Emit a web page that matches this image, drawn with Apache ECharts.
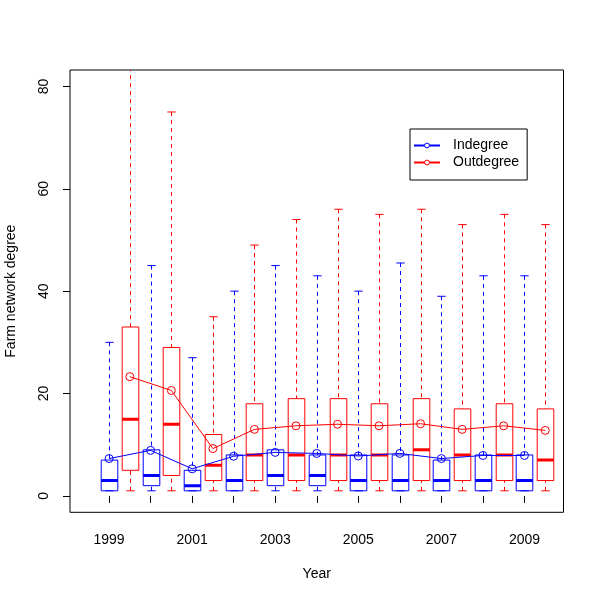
<!DOCTYPE html>
<html>
<head>
<meta charset="utf-8">
<script src="https://cdn.jsdelivr.net/npm/echarts@6/dist/echarts.min.js"></script>
<style>html,body{margin:0;padding:0;background:#fff;}#chart{width:600px;height:600px;}</style>
</head>
<body>
<div id="chart"></div>
<script>
// ---- data ----
var years = [1999, 2000, 2001, 2002, 2003, 2004, 2005, 2006, 2007, 2008, 2009];
var labelYears = [1999, 2001, 2003, 2005, 2007, 2009];
var yTicks = [0, 20, 40, 60, 80];
// box stats: [lower whisker, Q1, median, Q3, upper whisker]
var indegreeBoxes = [
  [1, 1, 3, 7, 30],
  [1, 2, 4, 9, 45],
  [1, 1, 2, 5, 27],
  [1, 1, 3, 8, 40],
  [1, 2, 4, 9, 45],
  [1, 2, 4, 8, 43],
  [1, 1, 3, 8, 40],
  [1, 1, 3, 8, 45.5],
  [1, 1, 3, 7, 39],
  [1, 1, 3, 8, 43],
  [1, 1, 3, 8, 43]
];
var outdegreeBoxes = [
  [1, 5, 15, 33, 90],
  [1, 4, 14, 29, 75],
  [1, 3, 6, 12, 35],
  [1, 3, 8, 18, 49],
  [1, 3, 8, 19, 54],
  [1, 3, 8, 19, 56],
  [1, 3, 8, 18, 55],
  [1, 3, 9, 19, 56],
  [1, 3, 8, 17, 53],
  [1, 3, 8, 18, 55],
  [1, 3, 7, 17, 53]
];
var indegreeMean = [7.3, 8.9, 5.3, 7.75, 8.5, 8.3, 7.8, 8.3, 7.3, 7.9, 7.9];
var outdegreeMean = [23.3, 20.6, 9.25, 13.0, 13.7, 14.0, 13.7, 14.1, 13.0, 13.7, 12.8];

// ---- chart ----
var FONT = 'Liberation Sans, Arial, Helvetica, sans-serif';
var BLUE = '#0000ff', RED = '#ff0000';
var OFFSET = 0.5; // outdegree boxes sit half a year to the right

function boxData(boxes, shift) {
  return years.map(function (y, i) { return [y + shift].concat(boxes[i]); });
}
function meanData(means, shift) {
  return years.map(function (y, i) { return [y + shift, means[i]]; });
}
function boxRenderer(color) {
  return function (params, api) {
    var x = api.value(0);
    var lo = api.coord([x, api.value(1)]);
    var q1 = api.coord([x, api.value(2)]);
    var med = api.coord([x, api.value(3)]);
    var q3 = api.coord([x, api.value(4)]);
    var hi = api.coord([x, api.value(5)]);
    var hw = api.size([0.2, 0])[0];
    var cx = Math.round(lo[0]) + 0.5;
    var solid = { stroke: color, lineWidth: 1, fill: null };
    var dashed = { stroke: color, lineWidth: 1, fill: null, lineDash: [4, 4] };
    return {
      type: 'group',
      children: [
        { type: 'line', shape: { x1: cx, y1: hi[1], x2: cx, y2: q3[1] }, style: dashed },
        { type: 'line', shape: { x1: cx, y1: lo[1], x2: cx, y2: q1[1] }, style: dashed },
        { type: 'line', shape: { x1: cx - hw / 2, y1: hi[1], x2: cx + hw / 2, y2: hi[1] }, style: solid },
        { type: 'line', shape: { x1: cx - hw / 2, y1: lo[1], x2: cx + hw / 2, y2: lo[1] }, style: solid },
        { type: 'rect', shape: { x: cx - hw, y: q3[1], width: 2 * hw, height: q1[1] - q3[1] }, style: solid },
        { type: 'line', shape: { x1: cx - hw, y1: med[1], x2: cx + hw, y2: med[1] }, style: { stroke: color, lineWidth: 3, lineCap: 'butt' } }
      ]
    };
  };
}

var chart = echarts.init(document.getElementById('chart'), null, { renderer: 'canvas' });
chart.setOption({
  backgroundColor: '#fff',
  animation: false,
  textStyle: { fontFamily: FONT },
  grid: { left: 70, right: 36.5, top: 70, bottom: 87.7, outerBoundsMode: 'none', containLabel: false, show: true, borderColor: '#000', borderWidth: 1, backgroundColor: 'transparent' },
  legend: {
    data: [
      { name: 'Indegree', itemStyle: { color: '#fff', borderColor: BLUE, borderWidth: 1 } },
      { name: 'Outdegree', itemStyle: { color: '#fff', borderColor: RED, borderWidth: 1 } }
    ],
    orient: 'vertical',
    left: 410, top: 129,
    borderColor: '#000', borderWidth: 1, borderRadius: 0,
    padding: [8, 8, 9, 3],
    itemWidth: 26, itemHeight: 6, itemGap: 0,
    selectedMode: false,
    textStyle: { fontSize: 14, color: '#000', fontFamily: FONT, lineHeight: 17, padding: [0, 0, 0, 8] }
  },
  xAxis: {
    type: 'value',
    min: 1998.06, max: 2009.94,
    name: 'Year', nameLocation: 'middle', nameGap: 55,
    nameTextStyle: { fontSize: 14, color: '#000', fontFamily: FONT },
    axisLine: { show: false },
    splitLine: { show: false },
    axisTick: { show: true, length: 7, lineStyle: { color: '#000' }, customValues: years },
    axisLabel: { fontSize: 14, color: '#000', fontFamily: FONT, margin: 21, customValues: labelYears, formatter: function (v) { return String(Math.round(v)); } }
  },
  yAxis: {
    type: 'value',
    min: -3.2, max: 83.2,
    name: 'Farm network degree', nameLocation: 'middle', nameGap: 52,
    nameTextStyle: { fontSize: 14, color: '#000', fontFamily: FONT },
    axisLine: { show: false },
    splitLine: { show: false },
    axisTick: { show: true, length: 7, lineStyle: { color: '#000' }, customValues: yTicks },
    axisLabel: { fontSize: 14, color: '#000', fontFamily: FONT, margin: 19, rotate: 90, customValues: yTicks }
  },
  series: [
    { name: 'Indegree box', type: 'custom', renderItem: boxRenderer(BLUE), data: boxData(indegreeBoxes, 0), clip: true, encode: { x: 0, y: [1, 2, 3, 4, 5] }, z: 2 },
    { name: 'Outdegree box', type: 'custom', renderItem: boxRenderer(RED), data: boxData(outdegreeBoxes, OFFSET), clip: true, encode: { x: 0, y: [1, 2, 3, 4, 5] }, z: 2 },
    { name: 'Indegree', type: 'line', data: meanData(indegreeMean, 0), symbol: 'circle', symbolSize: 8, lineStyle: { width: 1, color: BLUE }, itemStyle: { color: 'rgba(255,255,255,0)', borderColor: BLUE, borderWidth: 1 }, z: 3 },
    { name: 'Outdegree', type: 'line', data: meanData(outdegreeMean, OFFSET), symbol: 'circle', symbolSize: 8, lineStyle: { width: 1, color: RED }, itemStyle: { color: 'rgba(255,255,255,0)', borderColor: RED, borderWidth: 1 }, z: 3 }
  ]
});
</script>
</body>
</html>
